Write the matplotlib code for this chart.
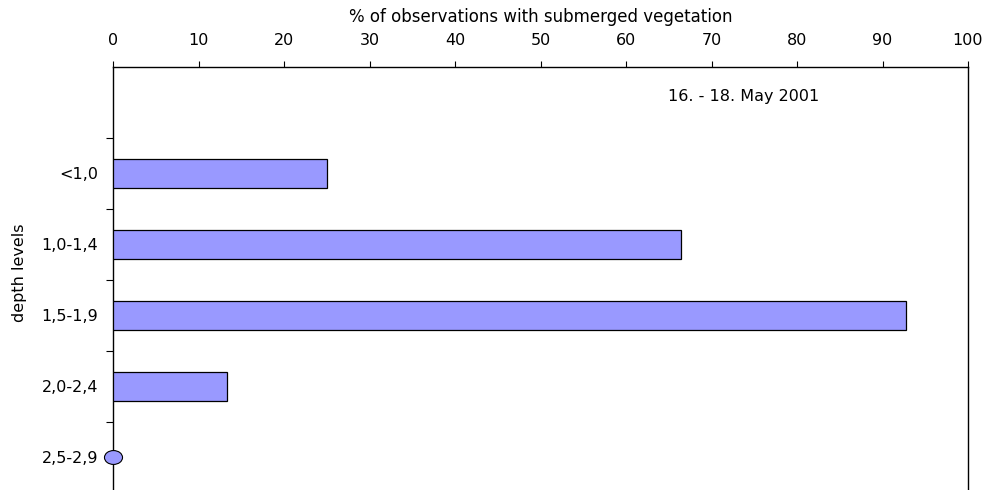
import matplotlib
matplotlib.use("Agg")
import matplotlib.pyplot as plt
from matplotlib.path import Path
from matplotlib.transforms import Affine2D
import numpy as np

plt.rcParams["font.family"] = ["DejaVu Sans"]

# Data
depth_levels = ["<1,0", "1,0-1,4", "1,5-1,9", "2,0-2,4", "2,5-2,9"]
pct_vegetation = [25.0, 66.4, 92.7, 13.3, 0.0]
x_ticks = [0, 10, 20, 30, 40, 50, 60, 70, 80, 90, 100]
period_text = "16. - 18. May 2001"

BAR_COLOR = "#9999FF"
FS = 11.5

fig = plt.figure(figsize=(9.85, 4.9), dpi=100)
ax = fig.add_axes([0.1152, -0.006, 0.8675, 0.8694])

# one empty slot on top, categories below it
y_pos = np.arange(1, len(depth_levels) + 1)
values = np.array(pct_vegetation)
nonzero = values > 0
ax.barh(y_pos[nonzero], values[nonzero], height=0.4, color=BAR_COLOR,
        edgecolor="black", linewidth=0.9, zorder=3)

# zero values are drawn as a small ellipse on the axis
ellipse = Path.unit_circle().transformed(Affine2D().scale(1.3, 1.0))
ax.plot(values[~nonzero], y_pos[~nonzero], linestyle="none", marker=ellipse,
        markersize=13, markerfacecolor=BAR_COLOR, markeredgecolor="black",
        markeredgewidth=0.8, clip_on=False, zorder=4)

ax.set_xlim(0, 100)
ax.set_ylim(len(depth_levels) + 0.5, -0.5)

# x axis on top
ax.xaxis.set_ticks_position("top")
ax.xaxis.set_label_position("top")
ax.set_xticks(x_ticks)
ax.tick_params(axis="x", direction="out", length=4, width=0.8, pad=9.5,
               labelsize=FS)
ax.set_xlabel("% of observations with submerged vegetation", fontsize=12,
              labelpad=8)

# category boundaries as major ticks, labels on minor ticks
ax.set_yticks(np.arange(0.5, len(depth_levels)), labels=[])
ax.set_yticks(y_pos, labels=depth_levels, minor=True)
ax.tick_params(axis="y", which="major", direction="out", length=5, width=0.8)
ax.tick_params(axis="y", which="minor", length=0, pad=11, labelsize=FS)
ax.set_ylabel("depth levels", fontsize=FS)
ax.yaxis.set_label_coords(-0.101, 0.516)

ax.spines["bottom"].set_visible(False)
for side in ["top", "left", "right"]:
    ax.spines[side].set_linewidth(1.0)

ax.text(0.738, 1 - 30 / 426, period_text, transform=ax.transAxes,
        ha="center", va="center", fontsize=FS)

fig.savefig("out.png", dpi=100)
